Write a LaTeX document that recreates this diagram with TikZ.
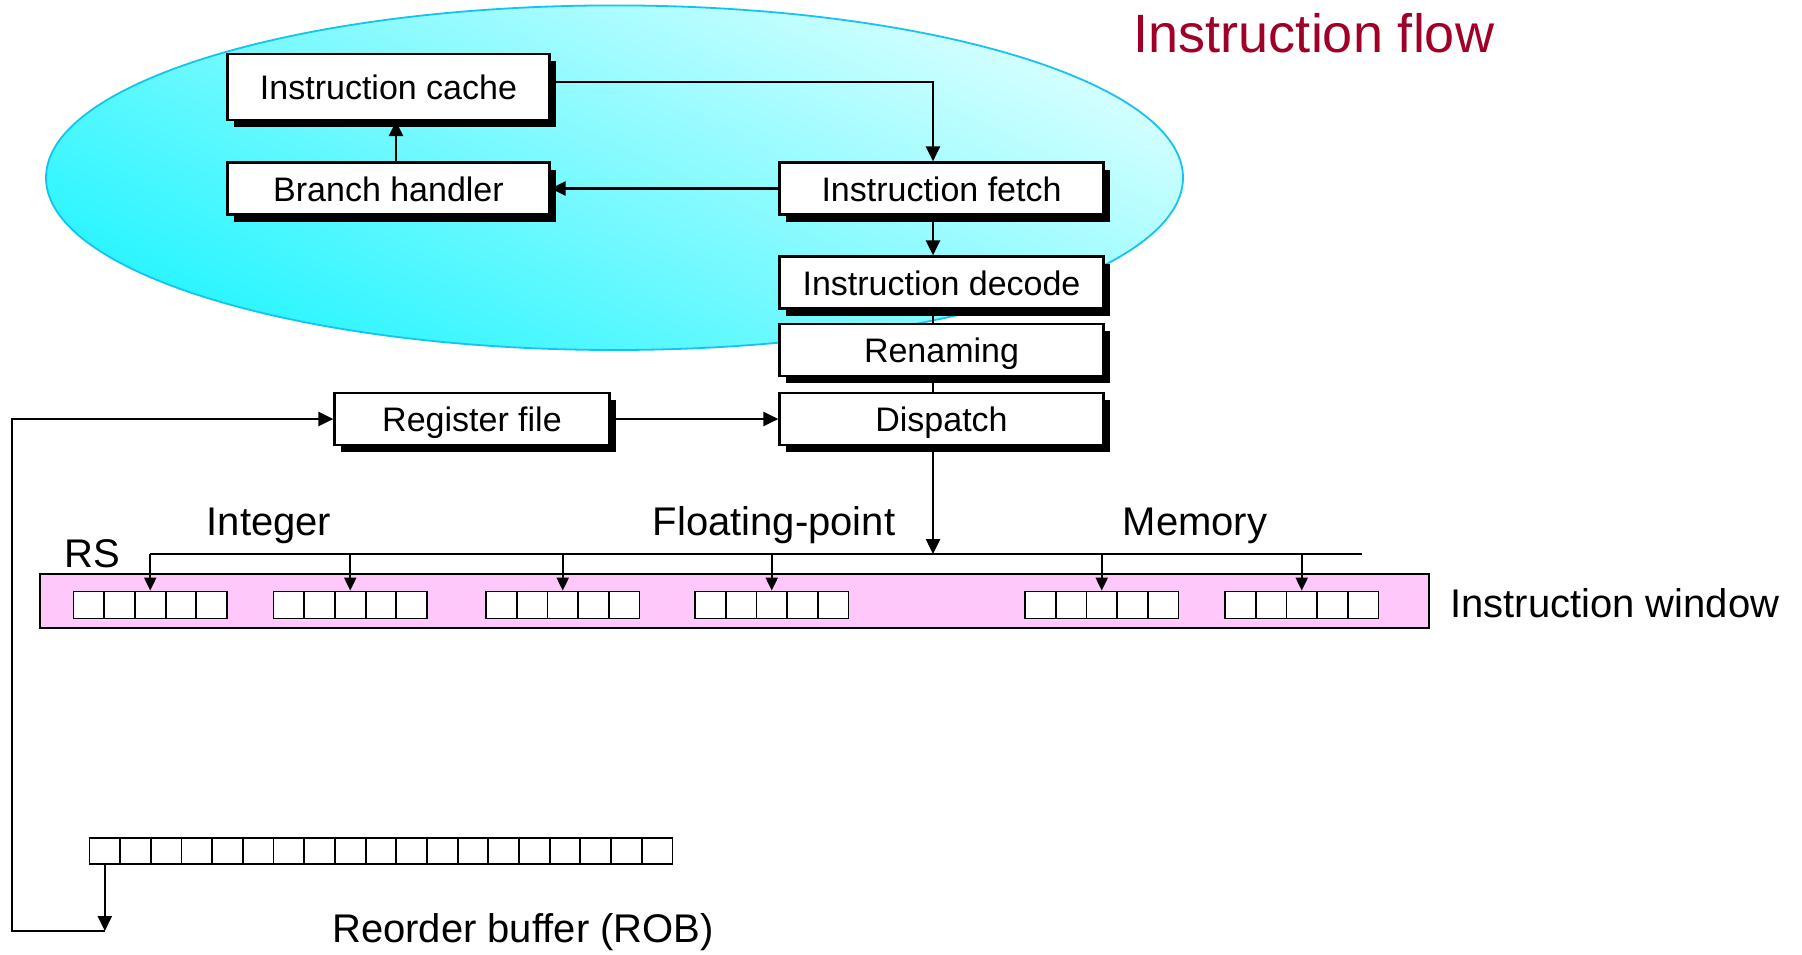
\documentclass[tikz,border=0pt]{standalone}
\usepackage{fontspec}
\setmainfont{Liberation Sans}
\usetikzlibrary{arrows.meta,shadows}
\definecolor{flowred}{RGB}{160,0,40}
\definecolor{rimblue}{RGB}{20,195,240}
\definecolor{palecyan}{RGB}{215,255,255}
\definecolor{deepcyan}{RGB}{40,245,255}
\definecolor{winpink}{RGB}{255,200,250}

\begin{document}
\begin{tikzpicture}[x=1pt,y=-1pt,
  stage/.style={draw, line width=2.2pt, fill=white, inner sep=0pt,
    minimum height=52pt, minimum width=324pt,
    text height=26.5pt, text depth=0.7pt,
    font=\fontsize{34}{40}\selectfont,
    drop shadow={shadow xshift=6pt, shadow yshift=-7pt, fill=black, opacity=1}},
  link/.style={line width=2.5pt, -{Triangle[length=15pt,width=14pt]}},
  drop/.style={line width=2pt, -{Triangle[length=13pt,width=12pt]}},
  wire/.style={line width=2.5pt},
  cell/.style={draw, line width=1.8pt, fill=white, minimum width=30.7pt,
    minimum height=27pt, inner sep=0pt},
  bigtext/.style={font=\fontsize{40}{48}\selectfont, anchor=base, inner sep=0pt},
]
\useasboundingbox (0,0) rectangle (1802,954);

% front-end cloud
\shade[top color=palecyan, bottom color=deepcyan, shading angle=-25]
  (614.5,177.7) ellipse [x radius=568.5, y radius=172.3];
\draw[rimblue, line width=1.8pt]
  (614.5,177.7) ellipse [x radius=568.5, y radius=172.3];

% pipeline stages
\node[stage, minimum width=322pt, minimum height=66pt] (ic) at (388.5,87) {Instruction cache};
\node[stage, minimum width=322pt] (bh) at (388.5,188.5) {Branch handler};
\node[stage] (if) at (941.5,188.5) {Instruction fetch};
\node[stage] (id) at (941.5,282.5) {Instruction decode};
\node[stage] (ren) at (941.5,350) {Renaming};
\node[stage] (disp) at (941.5,419) {Dispatch};
\node[stage, minimum width=275pt] (rf) at (472,419) {Register file};

% stage connections
\draw[link] ([yshift=5pt]ic.east) -| ([xshift=-8.5pt]if.north);
\draw[link] (if.west) -- (bh.east);
\draw[link] ([xshift=7.5pt]bh.north) -- ([xshift=7.5pt]ic.south);
\draw[link] ([xshift=-8.5pt]if.south) -- ([xshift=-8.5pt]id.north);
\draw[wire] ([xshift=-8.5pt]id.south) -- ([xshift=-8.5pt]ren.north);
\draw[wire] ([xshift=-8.5pt]ren.south) -- ([xshift=-8.5pt]disp.north);
\draw[link] (rf.east) -- (disp.west);

% instruction window with reservation stations
\node[draw, line width=1.8pt, fill=winpink, minimum width=1389pt,
  minimum height=54pt, inner sep=0pt] (win) at (734.5,601) {};
\foreach \g/\x in {1/73.5,2/273.5,3/486,4/695,5/1025,6/1225}{
  \foreach \c in {1,...,5}{
    \node[cell] (rs\g-\c) at ({\x+(\c-0.5)*30.7},605) {};
  }
}

% dispatch bus
\coordinate (busend) at (1362,554);
\coordinate (col) at ([xshift=-8.5pt]disp.south);
\draw[link] (col) -- (col |- busend);
\draw[line width=2pt] (rs1-3.north |- busend) -- (busend);
\foreach \g in {1,...,6}
  \draw[drop] (rs\g-3.north |- busend) -- (rs\g-3.north);

% reorder buffer
\foreach \c in {1,...,19}
  \node[cell, minimum height=26pt] (rob\c) at ({89.5+(\c-0.5)*30.68},851) {};

% retirement path back to the register file
\coordinate (fb) at (12,931);
\draw[link] (rob1.south) -- (rob1.south |- fb);
\draw[link] (rob1.south |- fb) -- (fb) |- (rf.west);

% captions
\node[bigtext, text=flowred, font=\fontsize{54}{60}\selectfont] (tflow) at (1314,52) {Instruction flow};
\node[bigtext] (tint) at (269,535) {Integer};
\node[bigtext] (tfp) at (774,535) {Floating-point};
\node[bigtext] (tmem) at (1195,535) {Memory};
\node[bigtext] (trs) at (92,567) {RS};
\node[bigtext, anchor=base west] (twin) at (1450,617) {Instruction window};
\node[bigtext] (trob) at (523,942) {Reorder buffer (ROB)};
\end{tikzpicture}
\end{document}
